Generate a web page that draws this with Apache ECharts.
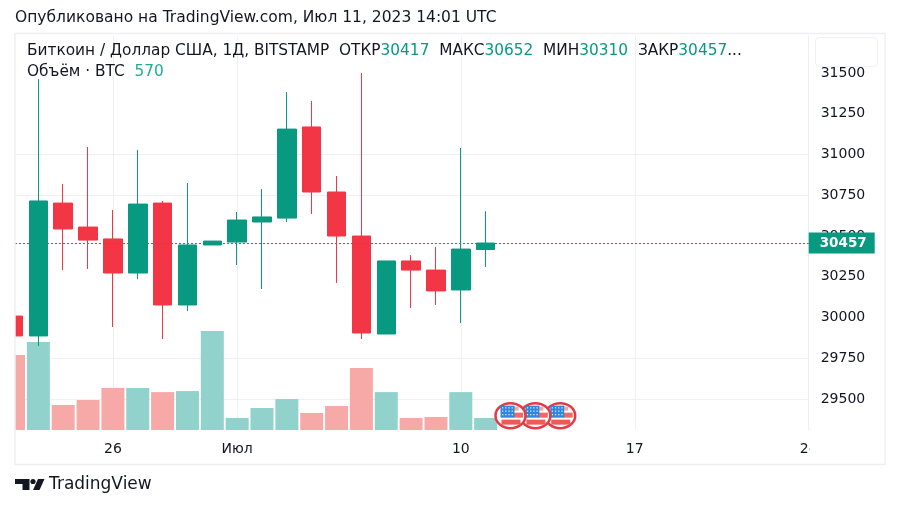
<!DOCTYPE html>
<html>
<head>
<meta charset="utf-8">
<style>html,body{margin:0;padding:0;background:#fff}#chart{width:900px;height:506px}</style>
<script src="https://cdn.jsdelivr.net/npm/echarts@6/dist/echarts.min.js"></script>
</head>
<body>
<div id="chart"></div>
<script>
var dates = ['2023-06-22','2023-06-23','2023-06-24','2023-06-25','2023-06-26','2023-06-27','2023-06-28','2023-06-29','2023-06-30','2023-07-01',
  '2023-07-02','2023-07-03','2023-07-04','2023-07-05','2023-07-06','2023-07-07','2023-07-08','2023-07-09','2023-07-10','2023-07-11'];
var opens  = [30009,29887,30702,30555,30482,30273,30702,30077,30445,30463,30586,30610,31169,30770,30500,29899,30347,30291,30169,30417];
var closes = [29887,30715,30543,30475,30273,30696,30077,30445,30469,30598,30617,31156,30770,30500,29905,30347,30291,30163,30420,30457];
var lows   = [29887,29825,30291,30298,29942,30236,29868,30040,30445,30322,30175,30586,30635,30212,29868,29899,30058,30077,29966,30310];
var highs  = [30009,31463,30819,31046,30660,31028,30715,30825,30469,30647,30788,31383,31328,30868,31500,30347,30383,30433,31040,30652];
var volumes = [3560,4180,1190,1425,2000,2000,1800,1850,4700,570,1045,1470,810,1140,2950,1800,570,620,1800,570];
var eventDates = ['2023-07-14','2023-07-13','2023-07-12'];
var priceLabels = [29500,29750,30000,30250,30500,30750,31000,31250,31500];
var priceLines = [29500,29750,30750,31000];
var timeTicks = ['2023-06-26','2023-07-01','2023-07-10','2023-07-17','2023-07-24'];
var timeLabels = ['26','Июл','10','17','24'];
var lastPrice = 30457;

var UP = '#089981', DOWN = '#F23645', UP_VOL = '#92D2CC', DOWN_VOL = '#F7A9A7';
var FONT = 'DejaVu Sans';

// дни от начала ряда, по ним строится ось X
function dayNo(s) {
  return Math.round((Date.parse(s) - Date.parse(dates[0])) / 86400000);
}
var tickDays = timeTicks.map(dayNo);

var chart = echarts.init(document.getElementById('chart'));

var candleData = dates.map(function (d, i) {
  return [dayNo(d), opens[i], closes[i], lows[i], highs[i]];
});
var volumeData = dates.map(function (d, i) {
  return {
    value: [dayNo(d), volumes[i]],
    itemStyle: {color: closes[i] >= opens[i] ? UP_VOL : DOWN_VOL}
  };
});

// маленький флаг США поверх оси времени
function renderFlag(params, api) {
  var c = api.coord([api.value(0), 29398]);
  var x = c[0], y = c[1];
  var kids = [
    {
      type: 'path',
      shape: {pathData: 'M0 10a10 10 0 1 0 20 0a10 10 0 1 0 -20 0z', layout: 'cover', x: x - 15, y: y - 12.5, width: 30, height: 25},
      style: {fill: '#fff', stroke: '#E23B47', lineWidth: 2.5}
    },
    {type: 'rect', shape: {x: x + 3, y: y - 3, width: 9.5, height: 5}, style: {fill: '#EE6A62'}},
    {type: 'rect', shape: {x: x - 9, y: y + 4, width: 19, height: 5}, style: {fill: '#EE5A55'}},
    {type: 'rect', shape: {x: x + 3, y: y - 9, width: 5, height: 4}, style: {fill: '#F4A9A0'}},
    {type: 'rect', shape: {x: x - 10, y: y - 10, width: 14, height: 12}, style: {fill: '#2F86DC'}}
  ];
  for (var r = 0; r < 3; r++) {
    for (var k = 0; k < 4; k++) {
      kids.push({type: 'rect', shape: {x: x - 8.5 + k * 3.2, y: y - 8.5 + r * 3.4, width: 1.3, height: 1.3}, style: {fill: '#DCEBFA'}});
    }
  }
  return {type: 'group', children: kids};
}

var option = {
  animation: false,
  backgroundColor: '#fff',
  textStyle: {fontFamily: FONT},
  grid: {left: 15, right: 91.3, top: 36, bottom: 76},
  xAxis: {
    type: 'value',
    min: 0.06,
    max: 32,
    axisLine: {show: false},
    axisTick: {show: false, customValues: tickDays},
    axisLabel: {
      customValues: tickDays,
      color: '#131722',
      fontSize: 14,
      fontFamily: FONT,
      margin: 12,
      hideOverlap: false,
      formatter: function (value) {
        var i = tickDays.indexOf(value);
        return i < 0 ? '' : timeLabels[i];
      }
    },
    splitLine: {show: true, lineStyle: {color: '#EEF0F3', width: 1}}
  },
  yAxis: [
    {
      type: 'value',
      position: 'right',
      min: 29310,
      max: 31727,
      axisLine: {show: true, lineStyle: {color: '#EEEFF2'}},
      axisTick: {show: false, customValues: priceLines},
      axisLabel: {
        customValues: priceLabels,
        color: '#131722',
        fontSize: 14,
        fontFamily: FONT,
        margin: 12,
        formatter: function (value) { return String(value); }
      },
      splitLine: {show: true, lineStyle: {color: '#EEF0F3', width: 1}}
    },
    {type: 'value', show: false, min: 0, max: 18715}
  ],
  series: [
    {
      type: 'bar',
      yAxisIndex: 1,
      barWidth: 23,
      z: 1,
      data: volumeData
    },
    {
      type: 'candlestick',
      yAxisIndex: 0,
      barWidth: 19,
      z: 3,
      encode: {x: 0, y: [1, 2, 3, 4]},
      itemStyle: {color: UP, color0: DOWN, borderColor: UP, borderColor0: DOWN, borderWidth: 1},
      data: candleData,
      markLine: {
        silent: true,
        symbol: 'none',
        lineStyle: {color: UP, type: [2, 2], width: 1},
        label: {
          show: true,
          position: 'end',
          distance: 0,
          formatter: String(lastPrice),
          color: '#fff',
          fontSize: 13.5,
          fontWeight: 'bold',
          fontFamily: FONT,
          backgroundColor: UP,
          width: 55,
          height: 21,
          lineHeight: 21,
          align: 'left',
          padding: [0, 0, 0, 11]
        },
        data: [{yAxis: lastPrice}]
      }
    },
    {
      type: 'custom',
      yAxisIndex: 0,
      z: 4,
      clip: false,
      renderItem: renderFlag,
      encode: {x: 0},
      data: eventDates.map(function (d) { return [dayNo(d)]; })
    }
  ],
  graphic: [
    // обрезка: левее рамки и под подписью «24»
    {type: 'rect', z: 50, shape: {x: 0, y: 30, width: 15, height: 440}, style: {fill: '#fff'}},
    {type: 'rect', z: 50, shape: {x: 809.5, y: 436, width: 74, height: 27}, style: {fill: '#fff'}},
    {type: 'rect', z: 51, shape: {x: 15, y: 33.5, width: 870, height: 431}, style: {fill: 'none', stroke: '#EEEFF2', lineWidth: 1.5}},
    {type: 'rect', z: 51, shape: {x: 815.5, y: 37.5, width: 62, height: 29, r: 4}, style: {fill: 'rgba(255,255,255,0.9)', stroke: '#F0F1F4', lineWidth: 1}},
    {type: 'text', z: 52, x: 15, y: 18, style: {text: 'Опубликовано на TradingView.com, Июл 11, 2023 14:01 UTC', fill: '#131722', font: '15.5px ' + FONT, verticalAlign: 'middle'}},
    {
      type: 'text', z: 52, x: 27, y: 51,
      style: {
        text: '{a|Биткоин / Доллар США, 1Д, BITSTAMP  ОТКР}{v|30417}{a|  МАКС}{v|30652}{a|  МИН}{v|30310}{a|  ЗАКР}{v|30457}{a|...}',
        verticalAlign: 'middle',
        rich: {
          a: {fill: '#131722', font: '15.35px ' + FONT},
          v: {fill: UP, font: '15.35px ' + FONT}
        }
      }
    },
    {
      type: 'text', z: 52, x: 27, y: 72,
      style: {
        text: '{a|Объём · BTC}{b|  570}',
        verticalAlign: 'middle',
        rich: {
          a: {fill: '#131722', font: '15.35px ' + FONT},
          b: {fill: '#22AB94', font: '15.35px ' + FONT}
        }
      }
    },
    // логотип TradingView
    {type: 'polygon', z: 52, shape: {points: [[15, 479], [29.5, 479], [29.5, 490], [22.5, 490], [22.5, 484], [15, 484]]}, style: {fill: '#131722'}},
    {type: 'polygon', z: 52, shape: {points: [[33, 490], [39.5, 490], [44.5, 479], [38, 479]]}, style: {fill: '#131722'}},
    {type: 'circle', z: 52, shape: {cx: 33, cy: 481.5, r: 2.6}, style: {fill: '#131722'}},
    {type: 'text', z: 52, x: 49, y: 485, style: {text: 'TradingView', fill: '#131722', font: '17px ' + FONT, verticalAlign: 'middle'}}
  ]
};
chart.setOption(option);
</script>
</body>
</html>
